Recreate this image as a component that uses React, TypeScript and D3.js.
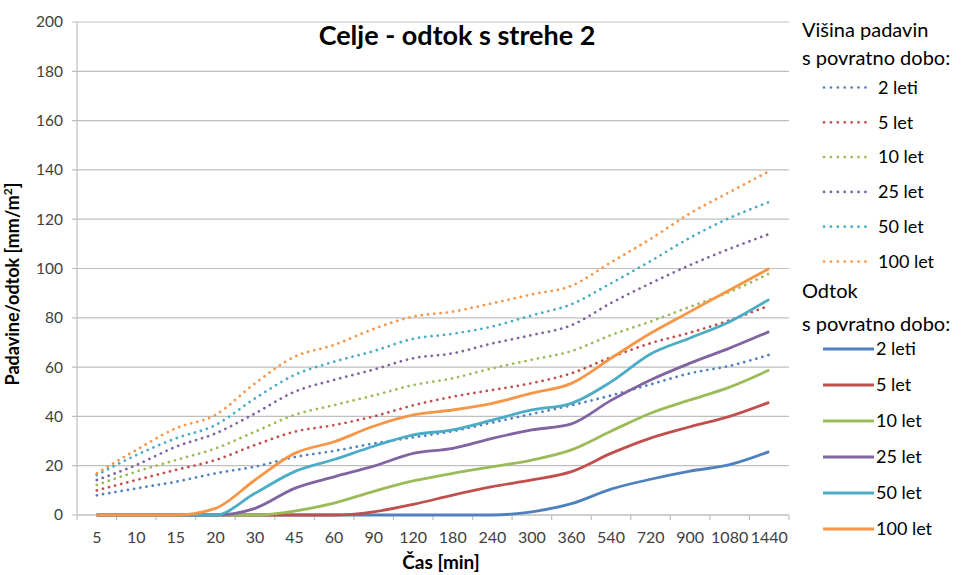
import React from "react";
import * as d3 from "d3";

const categories = ["5","10","15","20","30","45","60","90","120","180","240","300","360","540","720","900","1080","1440"];
const yTicks = [0,20,40,60,80,100,120,140,160,180,200];
const labels = ["2 leti","5 let","10 let","25 let","50 let","100 let"];
const colors = ["#4F81BD","#C0504D","#9BBB59","#8064A2","#4BACC6","#F79646"];

// Višina padavin (dotted)
const p2 = [8, 10.8, 13.5, 16.9, 19.6, 23.5, 26, 29, 31.5, 34, 37.5, 41, 44.5, 48.5, 53, 57.5, 60.5, 65];
const p5 = [10, 14.2, 18.3, 22.3, 28.4, 33.8, 36.5, 40, 44.5, 48, 50.7, 53.5, 57.5, 64, 69.7, 74, 79, 85];
const p10 = [12.2, 17.6, 22.3, 27, 33.8, 40.6, 44.6, 48.5, 52.7, 55.5, 59.5, 63, 66.5, 73, 78.5, 84.5, 90.5, 98];
const p25 = [14.2, 20.3, 27.7, 33.1, 41.2, 50, 54.8, 59, 63.6, 65.6, 69.6, 73, 77, 86, 94, 101.4, 108, 114];
const p50 = [16.2, 24.3, 31.1, 36.5, 47.3, 56.8, 62.2, 66.5, 71.5, 73.5, 76.5, 81, 85.5, 94, 103, 112.5, 120.5, 127];
const p100 = [16.9, 26.4, 35.2, 40.6, 53.4, 64.2, 69, 75.5, 80.5, 82.5, 85.9, 89.5, 93, 102.5, 112, 122.4, 131, 139.5];

// Odtok (solid)
const r2 = [0,0,0,0,0,0,0,0,0,0,0,1.3,4.6,10.5,14.5,17.8,20.4,25.7];
const r5 = [0,0,0,0,0,0,0,1.3,4.3,8.1,11.5,14.2,17.6,25,31.2,35.8,40,45.7];
const r10 = [0,0,0,0,0,1.6,4.8,9.6,13.8,16.9,19.6,22.3,26.4,34,41.3,46.7,51.9,58.8];
const r25 = [0,0,0,0,2.7,10.8,15.5,19.8,25,27,31.1,34.5,37,46.5,54.8,61.6,67.7,74.4];
const r50 = [0,0,0,0,8.8,17.6,22.5,27.9,32.5,34.5,38.5,42.6,45.3,54,65.3,71.8,78.4,87.5];
const r100 = [0,0,0,2.7,14.2,25,29.7,36,40.6,42.6,45.3,49.4,53.4,63.6,73.7,82.5,91.3,100];

const precip = [p2, p5, p10, p25, p50, p100];
const runoff = [r2, r5, r10, r25, r50, r100];

const W = 968, H = 575;
const L = 77, R = 789, T = 22, B = 515;
const FONT = "Lato, 'Open Sans', sans-serif";

export default function App() {
  const x = d3.scaleBand<string>().domain(categories).range([L, R]).padding(0);
  const y = d3.scaleLinear().domain([0, 200]).range([B, T]);
  const cx = (c: string) => (x(c) as number) + x.bandwidth() / 2;
  const line = d3.line<number>()
    .x((_, i) => cx(categories[i]))
    .y((d) => y(d))
    .curve(d3.curveMonotoneX);
  const grid = "#BFBFBF";
  const boundaries = [...categories.map((c) => x(c) as number), R];

  return (
    <svg width={W} height={H} style={{ position: "absolute", left: 0, top: 0, background: "#fff" }} fontFamily={FONT}>
      <rect x={0} y={0} width={W} height={H} fill="#fff" />
      {yTicks.map((t) => (
        <g key={t}>
          <line x1={L - 5} x2={R} y1={y(t)} y2={y(t)} stroke={grid} strokeWidth={1.2} />
          <text x={63} y={y(t)} dy="0.35em" textAnchor="end" fontSize={15.5} fill="#404040">{t}</text>
        </g>
      ))}
      <line x1={L} x2={L} y1={T} y2={B} stroke={grid} strokeWidth={1.2} />
      <line x1={L} x2={R} y1={B} y2={B} stroke={grid} strokeWidth={1.2} />
      {boundaries.map((b, i) => (
        <line key={i} x1={b} x2={b} y1={B} y2={B + 5} stroke={grid} strokeWidth={1.2} />
      ))}
      {categories.map((c) => (
        <text key={c} x={cx(c)} y={537} dy="0.35em" textAnchor="middle" fontSize={16} fill="#404040">{c}</text>
      ))}
      <text x={441} y={569} textAnchor="middle" fontSize={19} fontWeight="bold" fill="#000">Čas [min]</text>
      <text transform={`translate(19,284) rotate(-90)`} textAnchor="middle" fontSize={18} fontWeight="bold" fill="#000">
        Padavine/odtok [mm/m<tspan dy="-7" fontSize={12}>2</tspan><tspan dy="7">]</tspan>
      </text>
      <text x={457} y={45} textAnchor="middle" fontSize={27} fontWeight="bold" fill="#000">Celje - odtok s strehe 2</text>

      {precip.map((s, i) => (
        <path key={"p" + i} d={line(s) || ""} fill="none" stroke={colors[i]} strokeWidth={2.7}
          strokeDasharray="0.1 6.2" strokeLinecap="round" />
      ))}
      {runoff.map((s, i) => (
        <path key={"r" + i} d={line(s) || ""} fill="none" stroke={colors[i]} strokeWidth={2.8} strokeLinejoin="round" />
      ))}

      <text x={802} y={37} fontSize={20} fill="#000">Višina padavin</text>
      <text x={802} y={65} fontSize={20} fill="#000">s povratno dobo:</text>
      {labels.map((lb, i) => (
        <g key={"lp" + i}>
          <line x1={824} x2={872} y1={87.5 + i * 34.8} y2={87.5 + i * 34.8} stroke={colors[i]} strokeWidth={2.7}
            strokeDasharray="0.1 6.8" strokeLinecap="round" />
          <text x={878} y={87.5 + i * 34.8} dy="0.35em" fontSize={18} fill="#000">{lb}</text>
        </g>
      ))}
      <text x={802} y={298} fontSize={20} fill="#000">Odtok</text>
      <text x={802} y={331} fontSize={20} fill="#000">s povratno dobo:</text>
      {labels.map((lb, i) => (
        <g key={"lr" + i}>
          <line x1={823} x2={874} y1={349 + i * 36} y2={349 + i * 36} stroke={colors[i]} strokeWidth={3} />
          <text x={876} y={349 + i * 36} dy="0.35em" fontSize={18} fill="#000">{lb}</text>
        </g>
      ))}
    </svg>
  );
}
